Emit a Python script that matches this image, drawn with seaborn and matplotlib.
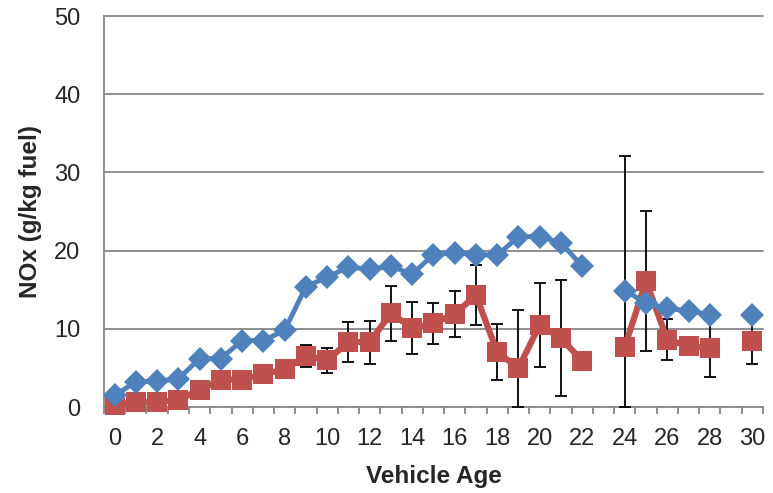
import numpy as np
import pandas as pd
import matplotlib
matplotlib.use("Agg")
import matplotlib.pyplot as plt
import seaborn as sns

# Vehicle age categories (0..30); NaN marks ages with no data
ages = list(range(31))
nan = np.nan
series_a = [1.5, 3.2, 3.3, 3.6, 6.2, 6.2, 8.5, 8.5, 9.8, 15.4,
            16.6, 17.9, 17.6, 18.0, 17.0, 19.5, 19.7, 19.5, 19.4, 21.8,
            21.8, 21.0, 18.0, nan, 14.9, 13.3, 12.6, 12.3, 11.8, nan,
            11.8]
series_b = [0.3, 0.6, 0.6, 0.9, 2.2, 3.5, 3.5, 4.2, 4.8, 6.5,
            6.0, 8.3, 8.3, 12.0, 10.1, 10.7, 11.9, 14.3, 7.0, 5.0,
            10.5, 8.8, 5.9, nan, 7.7, 16.1, 8.6, 7.8, 7.5, nan,
            8.4]
err_b = [0, 0, 0, 0, 0, 0, 0, 0, 0, 1.4,
         1.6, 2.6, 2.75, 3.5, 3.3, 2.6, 2.95, 3.8, 3.6, 7.4,
         5.4, 7.4, 0, 0, 24.4, 9.0, 2.6, 0, 3.7, 0,
         2.9]
x_ticks = list(range(0, 31, 2))
y_ticks = [0, 10, 20, 30, 40, 50]

blue = "#4F81BD"
red = "#C0504D"
grey = "#868686"

df = pd.DataFrame({"age": ages, "a": series_a, "b": series_b, "err": err_b})


def with_segments(col):
    """Rows with data, labelled by run so gaps break the line."""
    seg = df[col].isna().cumsum()
    out = df.assign(seg=seg)
    return out[out[col].notna()]


sns.set_style("white")
plt.rcParams["font.family"] = ["Liberation Sans", "DejaVu Sans"]

fig = plt.figure(figsize=(7.73, 4.93), dpi=100)
ax = fig.add_axes([0.1345, 0.1744, 0.8525, 0.7931])

# gridlines
for v in y_ticks[1:]:
    ax.axhline(v, color=grey, lw=1.3, zorder=0)

# error bars on the second series (clipped at the axis floor)
eb = df[df["err"] > 0]
lower = np.minimum(eb["err"], eb["b"])
ax.errorbar(eb["age"], eb["b"], yerr=[lower, eb["err"]], fmt="none",
            ecolor="black", elinewidth=1.3, capsize=4.5, capthick=1.3, zorder=2)

sns.lineplot(data=with_segments("a"), x="age", y="a", units="seg", estimator=None,
             ax=ax, color=blue, lw=3.5, marker="D", markersize=12.5,
             markeredgewidth=0, zorder=4)
sns.lineplot(data=with_segments("b"), x="age", y="b", units="seg", estimator=None,
             ax=ax, color=red, lw=4.5, marker="s", markersize=14.5,
             markeredgewidth=0, zorder=3)

ax.set_xlim(-0.5, 30.5)
ax.set_ylim(0, 50)
ax.set_yticks(y_ticks)
ax.set_yticklabels([str(v) for v in y_ticks], fontsize=17)

# category axis: labels under every other age, tick marks between categories
ax.set_xticks(x_ticks)
ax.set_xticklabels([str(v) for v in x_ticks], fontsize=17)
ax.set_xticks(np.arange(-0.5, 31, 1), minor=True)
ax.tick_params(axis="x", which="major", length=0, pad=15)
ax.tick_params(axis="x", which="minor", length=5, width=1.3, color=grey,
               direction="out", bottom=True)
ax.tick_params(axis="y", length=7, width=1.3, color=grey, direction="out", pad=10)

for s in ["top", "right"]:
    ax.spines[s].set_visible(False)
for s in ["left", "bottom"]:
    ax.spines[s].set_color(grey)
    ax.spines[s].set_linewidth(1.3)
    ax.spines[s].set_zorder(1)

ax.set_xlabel("Vehicle Age", fontsize=17.5, fontweight="bold")
ax.set_ylabel("NOx (g/kg fuel)", fontsize=17.5, fontweight="bold")
ax.xaxis.set_label_coords(0.5, -0.148)
ax.yaxis.set_label_coords(-0.094, 0.5)

for line in ax.get_lines():
    line.set_clip_on(False)

fig.savefig("out.png", dpi=100)
